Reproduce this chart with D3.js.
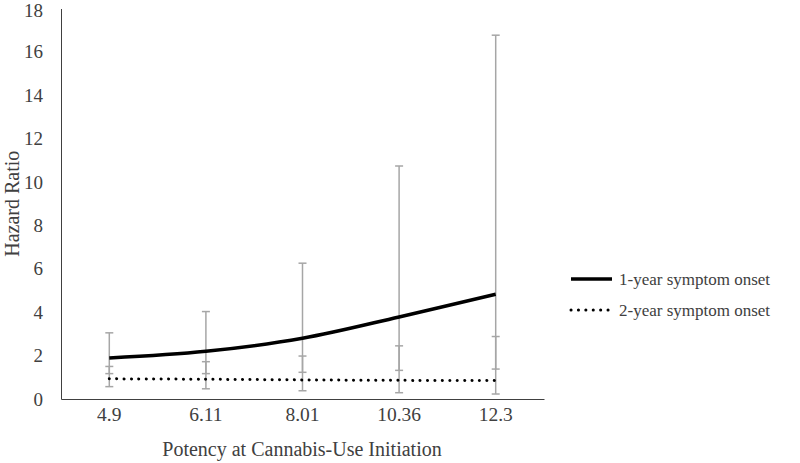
<!DOCTYPE html>
<html><head><meta charset="utf-8">
<script src="https://cdn.jsdelivr.net/npm/d3@7"></script>
<style>body{margin:0;background:#fff}svg{display:block}text{font-family:"Liberation Serif","Times New Roman",serif;fill:#404040}</style>
</head><body><svg id="c" width="800" height="463"></svg>
<script>
const categories = ["4.9","6.11","8.01","10.36","12.3"];
const oneYearHR = [1.89, 2.2, 2.8, 3.78, 4.83];
const oneYearLow = [1.17, 1.17, 1.23, 1.32, 1.38];
const oneYearHigh = [3.05, 4.03, 6.26, 10.74, 16.77];
const twoYearHR = [0.93, 0.91, 0.88, 0.86, 0.85];
const twoYearLow = [0.57, 0.47, 0.38, 0.29, 0.23];
const twoYearHigh = [1.5, 1.72, 1.98, 2.45, 2.88];
const yTicks = [0,2,4,6,8,10,12,14,16,18];
const seriesNames = ["1-year symptom onset","2-year symptom onset"];

const svg = d3.select("#c");
const L=61, R=544, T=8.5, B=399;
const x = d3.scaleBand().domain(categories).range([L,R]);
const cx = c => x(c) + x.bandwidth()/2;
const y = d3.scaleLinear().domain([0,18]).range([B,T]);

// axes
const yAxis = d3.axisLeft(y).tickValues(yTicks).tickSize(0).tickPadding(18);
const gy = svg.append("g").attr("transform",`translate(${L},0)`).call(yAxis);
gy.select(".domain").attr("stroke","#404040").attr("stroke-width",1);
gy.selectAll("text").attr("font-size",19).style("font-family","Liberation Serif").attr("fill","#404040")
  .attr("dy", d => d === 18 ? "0.4em" : "0.32em");

const xAxis = d3.axisBottom(x).tickSize(0).tickPadding(8);
const gx = svg.append("g").attr("transform",`translate(0,${B})`).call(xAxis);
gx.select(".domain").attr("stroke","#404040").attr("stroke-width",1);
gx.selectAll("text").attr("font-size",19.5).style("font-family","Liberation Serif").attr("fill","#404040");

// error bars
const bars = [];
categories.forEach((c,i)=>{
  bars.push({c, lo:oneYearLow[i], hi:oneYearHigh[i]});
  bars.push({c, lo:twoYearLow[i], hi:twoYearHigh[i]});
});
const eb = svg.append("g").attr("stroke","#a6a6a6").attr("stroke-width",1.5);
bars.forEach(b=>{
  const X = cx(b.c);
  eb.append("line").attr("x1",X).attr("x2",X).attr("y1",y(b.lo)).attr("y2",y(b.hi));
  eb.append("line").attr("x1",X-4).attr("x2",X+4).attr("y1",y(b.lo)).attr("y2",y(b.lo));
  eb.append("line").attr("x1",X-4).attr("x2",X+4).attr("y1",y(b.hi)).attr("y2",y(b.hi));
});

// lines
const line1 = d3.line().x((d,i)=>cx(categories[i])).y(d=>y(d)).curve(d3.curveCatmullRom.alpha(0.5));
svg.append("path").attr("d",line1(oneYearHR)).attr("fill","none").attr("stroke","#000").attr("stroke-width",3.5);
const line2 = d3.line().x((d,i)=>cx(categories[i])).y(d=>y(d)).curve(d3.curveCatmullRom.alpha(0.5));
svg.append("path").attr("d",line2(twoYearHR)).attr("fill","none").attr("stroke","#000").attr("stroke-width",3)
  .attr("stroke-linecap","round").attr("stroke-dasharray","0.1 7.3");

// axis titles
svg.append("text").attr("x",302).attr("y",456).attr("text-anchor","middle").attr("font-size",20).text("Potency at Cannabis-Use Initiation");
svg.append("text").attr("transform",`translate(19,${(T+B)/2}) rotate(-90)`).attr("text-anchor","middle").attr("font-size",20).text("Hazard Ratio");

// legend
const lg = svg.append("g");
[0,1].forEach(i=>{
  const ly = 279 + i*31;
  lg.append("line").attr("x1",571).attr("x2",612).attr("y1",ly).attr("y2",ly)
    .attr("stroke","#000").attr("stroke-width",i?3:3.5)
    .attr("stroke-linecap",i?"round":"butt").attr("stroke-dasharray",i?"0.1 7.3":null);
  lg.append("text").attr("x",619).attr("y",ly).attr("dy","0.35em").attr("font-size",17).text(seriesNames[i]);
});
</script></body></html>
